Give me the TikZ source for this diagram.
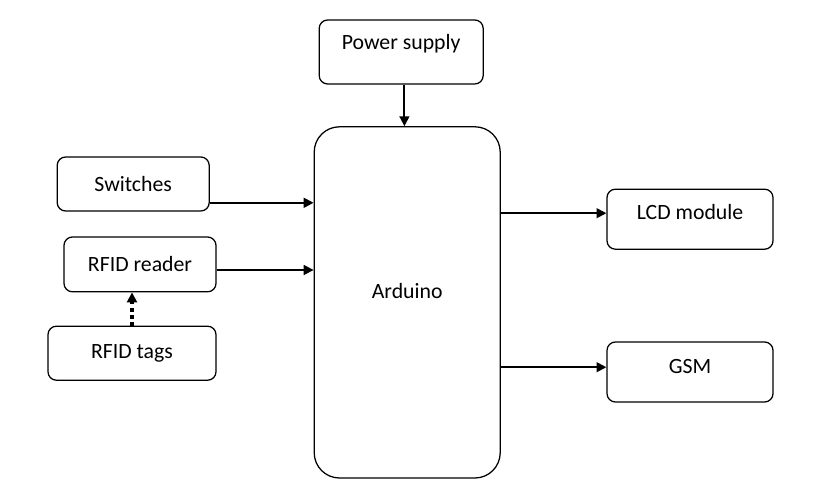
\documentclass[tikz,border=0pt]{standalone}
\usepackage{fontspec}
\setmainfont{Carlito}
\usetikzlibrary{arrows.meta}

\tikzset{
    block/.style={draw, rounded corners=6pt, line width=0.9pt, align=center,
        font=\fontsize{15.5}{18}\selectfont},
    link/.style={-{Triangle[length=7pt,width=7pt]}, line width=1.3pt},
    wireless/.style={-{Triangle[length=7pt,width=7pt]}, line width=2.6pt,
        dash pattern=on 2.5pt off 2.5pt}
}

\begin{document}
\begin{tikzpicture}
        \useasboundingbox (0,0) rectangle (20.65,12.3);
        \node[block, minimum width=4.1cm, minimum height=1.6cm, text depth=0.5cm] (P) at (10.03,11.0) {Power supply};
        \node[block, minimum width=4.65cm, minimum height=8.78cm, rounded corners=18pt, text depth=0.55cm] (A) at (10.18,4.74) {Arduino};
        \node[block, minimum width=3.8cm, minimum height=1.35cm] (S) at (3.33,7.7) {Switches};
        \node[block, minimum width=3.8cm, minimum height=1.37cm] (R) at (3.5,5.69) {RFID reader};
        \node[block, minimum width=4.2cm, minimum height=1.35cm] (T) at (3.3,3.47) {RFID tags};
        \node[block, minimum width=4.15cm, minimum height=1.5cm, text depth=0.35cm] (L) at (17.25,6.82) {LCD module};
        \node[block, minimum width=4.15cm, minimum height=1.5cm, text depth=0.3cm] (G) at (17.25,3.0) {GSM};

        \draw[link] ([xshift=0.08cm]P.south) -- ([xshift=0.08cm]P.south |- A.north);
        \draw[link] ([yshift=-0.47cm]S.east) -- ([yshift=-0.47cm]S.east -| A.west);
        \draw[link] ([yshift=-0.14cm]R.east) -- ([yshift=-0.14cm]R.east -| A.west);
        \draw[wireless] (T.north) -- (T.north |- R.south);
        \draw[link] ([yshift=0.15cm]A.east |- L.west) -- ([yshift=0.15cm]L.west);
        \draw[link] ([yshift=0.12cm]A.east |- G.west) -- ([yshift=0.12cm]G.west);
    \end{tikzpicture}
\end{document}
